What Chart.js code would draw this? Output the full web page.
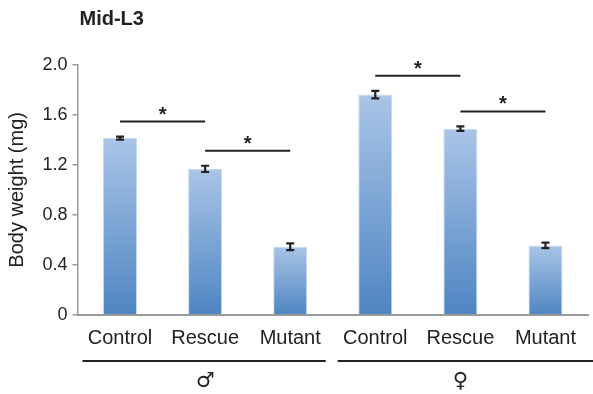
<!DOCTYPE html>
<html>
<head>
<meta charset="utf-8">
<script src="https://cdn.jsdelivr.net/npm/chart.js@4"></script>
<style>
  html, body { margin: 0; padding: 0; background: #fff; }
  #wrap { width: 593px; height: 394px; position: relative; }
</style>
</head>
<body>
<div id="wrap"><canvas id="chart" width="593" height="394"></canvas></div>
<script>
// Mid-L3 larval body weight by genotype and sex
const chartTitle = 'Mid-L3';
const categories = ['Control', 'Rescue', 'Mutant', 'Control', 'Rescue', 'Mutant'];
const bodyWeight = [1.415, 1.168, 0.545, 1.763, 1.490, 0.555];
const weightError = [0.012, 0.025, 0.027, 0.030, 0.018, 0.022];
const sexGroups = ['♂', '♀'];
const groupSize = 3;
const yTicks = [0, 0.4, 0.8, 1.2, 1.6, 2.0];
// pairs of bars marked as significantly different
const sigFrom = [0, 1, 3, 4];
const sigTo = [1, 2, 4, 5];
const sigMark = ['*', '*', '*', '*'];

const FONT = '"Liberation Sans", Arial, Helvetica, sans-serif';
const INK = '#222222';
const AXIS = '#9a9a9a';

function barGradient(ctx) {
  const chart = ctx.chart;
  const area = chart.chartArea;
  if (!area || ctx.parsed === undefined) return '#7ea5d6';
  const y = chart.scales.y;
  const top = y.getPixelForValue(ctx.parsed.y);
  const bottom = y.getPixelForValue(0);
  const g = chart.ctx.createLinearGradient(0, top, 0, bottom);
  g.addColorStop(0, '#a9c5e7');
  g.addColorStop(1, '#4f85c2');
  return g;
}

const annotations = {
  id: 'annotations',
  afterDatasetsDraw(chart, args, opts) {
    const c = chart.ctx;
    const x = chart.scales.x;
    const y = chart.scales.y;
    c.save();
    // error bars
    c.strokeStyle = INK;
    c.lineWidth = 2.2;
    bodyWeight.forEach((v, i) => {
      const cx = x.getPixelForValue(i);
      const hi = y.getPixelForValue(v + weightError[i]);
      const lo = y.getPixelForValue(v - weightError[i]);
      c.beginPath();
      c.moveTo(cx, hi); c.lineTo(cx, lo);
      c.moveTo(cx - 4, hi); c.lineTo(cx + 4, hi);
      c.moveTo(cx - 4, lo); c.lineTo(cx + 4, lo);
      c.stroke();
    });
    // significance bars
    c.lineWidth = 2;
    c.fillStyle = INK;
    c.font = 'bold 20px ' + FONT;
    c.textAlign = 'center';
    c.textBaseline = 'alphabetic';
    sigFrom.forEach((a, k) => {
      const b = sigTo[k];
      const level = Math.max(bodyWeight[a] + weightError[a], bodyWeight[b] + weightError[b]) + opts.gap;
      const py = y.getPixelForValue(level);
      const x1 = x.getPixelForValue(a);
      const x2 = x.getPixelForValue(b);
      c.beginPath();
      c.moveTo(x1, py); c.lineTo(x2, py);
      c.stroke();
      c.fillText(sigMark[k], (x1 + x2) / 2, py - 1);
    });
    c.restore();
  },
  afterDraw(chart) {
    const c = chart.ctx;
    const x = chart.scales.x;
    const half = (x.getPixelForValue(1) - x.getPixelForValue(0)) / 2;
    c.save();
    // title
    c.fillStyle = INK;
    c.font = 'bold 20px ' + FONT;
    c.textAlign = 'left';
    c.textBaseline = 'alphabetic';
    c.fillText(chartTitle, chart.chartArea.left + 2, 25);
    // sex group underlines and symbols
    c.strokeStyle = INK;
    c.lineWidth = 2;
    c.font = '21px "DejaVu Sans", ' + FONT;
    c.textAlign = 'center';
    c.textBaseline = 'middle';
    sexGroups.forEach((s, g) => {
      const first = g * groupSize;
      const last = first + groupSize - 1;
      const left = x.getPixelForValue(first) - half + 5;
      const right = g === sexGroups.length - 1 ? chart.width : x.getPixelForValue(last) + half - 7;
      c.beginPath();
      c.moveTo(left, 361); c.lineTo(right, 361);
      c.stroke();
      const mid = (x.getPixelForValue(first) + x.getPixelForValue(last)) / 2;
      c.fillText(s, mid, 382);
    });
    c.restore();
  }
};

new Chart(document.getElementById('chart'), {
  type: 'bar',
  data: {
    labels: categories,
    datasets: [{
      data: bodyWeight,
      backgroundColor: barGradient,
      borderColor: '#c9dbf0',
      borderWidth: 1,
      categoryPercentage: 1,
      barPercentage: 0.4
    }]
  },
  options: {
    responsive: false,
    animation: false,
    events: [],
    layout: { padding: { top: 65, right: 5, left: 0, bottom: 0 } },
    plugins: {
      legend: { display: false },
      tooltip: { enabled: false },
      annotations: { gap: 0.12 }
    },
    scales: {
      x: {
        grid: { display: false, drawTicks: false },
        border: { color: AXIS, width: 2 },
        ticks: { color: INK, font: { family: FONT, size: 20 }, padding: 12, maxRotation: 0, autoSkip: false },
        afterFit(scale) { scale.height = 79.3; }
      },
      y: {
        min: 0,
        max: 2,
        afterBuildTicks(scale) { scale.ticks = yTicks.map(v => ({ value: v })); },
        grid: { drawOnChartArea: false, drawTicks: true, tickLength: 5, color: AXIS, lineWidth: 1.5 },
        border: { color: AXIS, width: 1.5 },
        ticks: {
          color: INK,
          font: { family: FONT, size: 18 },
          padding: 5,
          callback: v => (v === 0 ? '0' : v.toFixed(1))
        },
        title: {
          display: true,
          text: 'Body weight (mg)',
          color: INK,
          font: { family: FONT, size: 20 },
          padding: { top: 5, bottom: 0 }
        },
        afterFit(scale) { scale.width = 77.5; }
      }
    }
  },
  plugins: [annotations]
});
</script>
</body>
</html>
